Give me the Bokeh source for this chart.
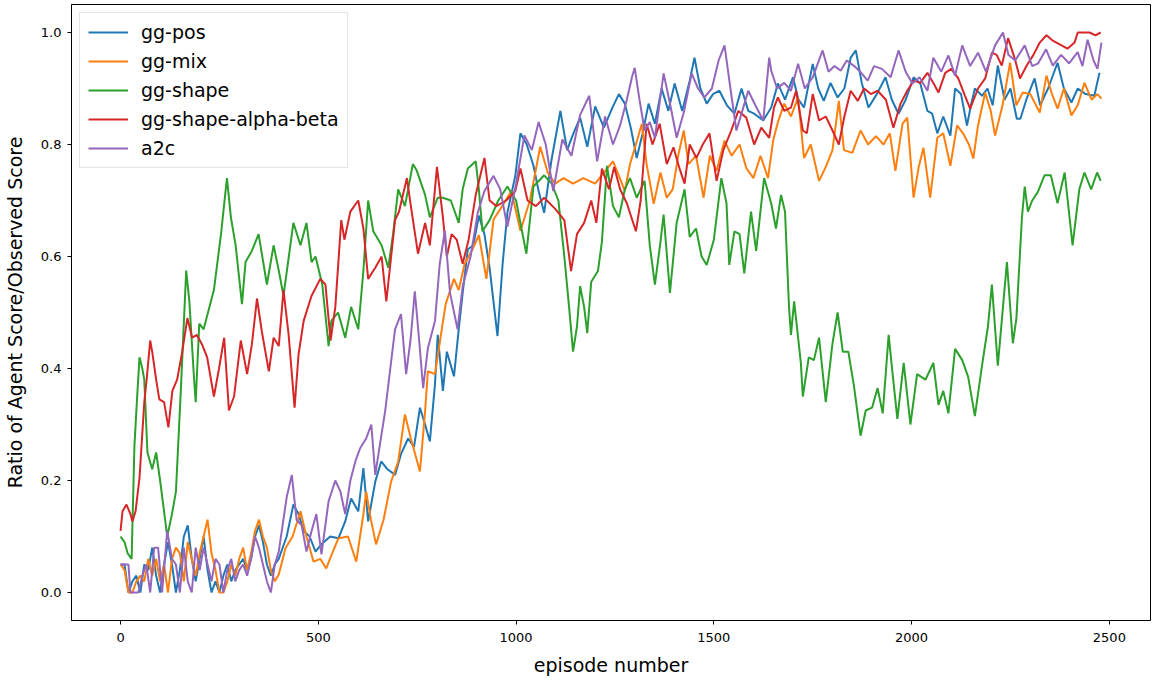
from bokeh.plotting import figure
from bokeh.models import FixedTicker, Legend, LegendItem, CustomJSTickFormatter
from bokeh.embed import file_html
from bokeh.resources import INLINE

# ---- data ----
pos_ep = [0, 10, 20, 30, 40, 50, 60, 70, 80, 90, 100, 110, 120, 130, 140, 150, 160, 170, 180, 190, 200, 210, 220, 230, 240, 250, 260, 270, 280, 290, 300, 310, 320, 330, 340, 350, 360, 370, 380, 390, 400, 420, 437, 450, 463, 478, 493, 508, 530, 551, 568, 583, 601, 614, 626, 644, 659, 675, 694, 709, 727, 742, 757, 770, 782, 795, 802, 815, 825, 843, 855, 865, 878, 892, 906, 920, 933, 953, 966, 978, 998, 1011, 1027, 1044, 1057, 1071, 1089, 1112, 1129, 1145, 1162, 1180, 1200, 1222, 1245, 1260, 1275, 1290, 1305, 1320, 1335, 1351, 1368, 1385, 1401, 1420, 1439, 1451, 1466, 1482, 1498, 1514, 1533, 1552, 1570, 1587, 1602, 1625, 1645, 1662, 1680, 1700, 1714, 1728, 1750, 1764, 1778, 1795, 1813, 1830, 1846, 1859, 1874, 1891, 1912, 1934, 1950, 1967, 1985, 2005, 2022, 2040, 2052, 2065, 2080, 2098, 2110, 2125, 2140, 2150, 2160, 2178, 2192, 2205, 2218, 2235, 2250, 2266, 2275, 2290, 2311, 2325, 2345, 2369, 2385, 2404, 2420, 2440, 2462, 2475]
pos_val = [0.05, 0.05, 0.0, 0.02, 0.03, 0.0, 0.05, 0.04, 0.08, 0.03, 0.0, 0.05, 0.09, 0.05, 0.0, 0.04, 0.10, 0.12, 0.06, 0.02, 0.06, 0.10, 0.04, 0.0, 0.02, 0.0, 0.03, 0.05, 0.02, 0.04, 0.05, 0.06, 0.04, 0.06, 0.10, 0.12, 0.09, 0.05, 0.03, 0.05, 0.06, 0.10, 0.157, 0.14, 0.11, 0.10, 0.073, 0.086, 0.10, 0.097, 0.127, 0.168, 0.145, 0.222, 0.127, 0.198, 0.234, 0.22, 0.21, 0.247, 0.275, 0.26, 0.33, 0.30, 0.27, 0.372, 0.46, 0.36, 0.43, 0.386, 0.47, 0.535, 0.613, 0.62, 0.673, 0.64, 0.58, 0.458, 0.587, 0.678, 0.744, 0.82, 0.80, 0.762, 0.717, 0.678, 0.77, 0.86, 0.79, 0.82, 0.848, 0.796, 0.868, 0.83, 0.868, 0.89, 0.873, 0.83, 0.776, 0.82, 0.873, 0.837, 0.90, 0.86, 0.909, 0.86, 0.914, 0.955, 0.90, 0.873, 0.89, 0.896, 0.87, 0.855, 0.90, 0.86, 0.855, 0.843, 0.866, 0.909, 0.88, 0.92, 0.88, 0.866, 0.944, 0.90, 0.878, 0.91, 0.884, 0.90, 0.955, 0.968, 0.91, 0.866, 0.89, 0.92, 0.88, 0.855, 0.88, 0.92, 0.909, 0.86, 0.855, 0.82, 0.85, 0.816, 0.90, 0.89, 0.834, 0.87, 0.90, 0.887, 0.90, 0.87, 0.941, 0.88, 0.90, 0.846, 0.846, 0.88, 0.918, 0.87, 0.90, 0.946, 0.90, 0.875, 0.90, 0.89, 0.887, 0.928]

mix_ep = [0, 10, 20, 30, 40, 50, 60, 70, 80, 90, 100, 110, 120, 130, 140, 150, 160, 170, 180, 190, 200, 210, 220, 230, 240, 250, 260, 270, 280, 290, 300, 310, 320, 330, 340, 350, 360, 370, 380, 390, 400, 417, 435, 455, 470, 488, 505, 520, 535, 551, 575, 596, 614, 621, 633, 646, 665, 684, 702, 719, 734, 757, 770, 777, 795, 810, 822, 843, 855, 870, 888, 906, 925, 943, 965, 988, 1011, 1035, 1061, 1080, 1099, 1120, 1144, 1170, 1200, 1222, 1245, 1255, 1275, 1288, 1303, 1318, 1330, 1348, 1365, 1381, 1396, 1411, 1424, 1436, 1455, 1474, 1490, 1507, 1527, 1545, 1565, 1582, 1600, 1618, 1637, 1650, 1662, 1678, 1695, 1713, 1728, 1745, 1766, 1783, 1800, 1816, 1829, 1850, 1871, 1890, 1910, 1929, 1945, 1959, 1977, 1989, 2005, 2018, 2030, 2047, 2065, 2080, 2098, 2115, 2130, 2145, 2156, 2168, 2186, 2200, 2211, 2230, 2249, 2265, 2281, 2300, 2324, 2341, 2355, 2369, 2385, 2404, 2420, 2437, 2455, 2470, 2480]
mix_val = [0.05, 0.04, 0.0, 0.0, 0.02, 0.03, 0.02, 0.06, 0.03, 0.06, 0.02, 0.05, 0.0, 0.06, 0.08, 0.07, 0.02, 0.09, 0.06, 0.03, 0.07, 0.10, 0.13, 0.07, 0.04, 0.0, 0.0, 0.02, 0.05, 0.03, 0.06, 0.08, 0.04, 0.07, 0.11, 0.13, 0.10, 0.08, 0.04, 0.02, 0.032, 0.079, 0.10, 0.145, 0.10, 0.055, 0.06, 0.043, 0.07, 0.097, 0.10, 0.055, 0.14, 0.18, 0.13, 0.086, 0.13, 0.198, 0.234, 0.318, 0.275, 0.216, 0.324, 0.395, 0.39, 0.46, 0.515, 0.56, 0.54, 0.587, 0.61, 0.638, 0.56, 0.666, 0.69, 0.717, 0.646, 0.70, 0.796, 0.75, 0.73, 0.74, 0.73, 0.74, 0.73, 0.75, 0.77, 0.753, 0.717, 0.765, 0.80, 0.837, 0.765, 0.694, 0.75, 0.705, 0.72, 0.784, 0.825, 0.765, 0.78, 0.705, 0.78, 0.753, 0.807, 0.78, 0.80, 0.758, 0.74, 0.78, 0.74, 0.807, 0.84, 0.873, 0.85, 0.884, 0.776, 0.80, 0.735, 0.76, 0.79, 0.878, 0.79, 0.785, 0.825, 0.80, 0.815, 0.80, 0.82, 0.753, 0.837, 0.848, 0.705, 0.76, 0.794, 0.705, 0.812, 0.82, 0.762, 0.834, 0.82, 0.80, 0.775, 0.834, 0.893, 0.86, 0.816, 0.87, 0.946, 0.87, 0.893, 0.89, 0.857, 0.923, 0.89, 0.864, 0.90, 0.852, 0.87, 0.91, 0.88, 0.89, 0.882]

shape_ep = [0, 10, 18, 28, 35, 42, 48, 55, 60, 68, 80, 90, 100, 110, 118, 130, 140, 153, 166, 174, 186, 190, 199, 210, 236, 254, 269, 279, 291, 307, 316, 332, 349, 370, 387, 400, 412, 437, 455, 470, 483, 493, 510, 526, 533, 550, 568, 583, 601, 614, 626, 639, 660, 677, 689, 702, 719, 739, 748, 770, 782, 802, 815, 835, 855, 865, 878, 898, 906, 915, 933, 955, 978, 1000, 1026, 1044, 1071, 1090, 1107, 1122, 1134, 1144, 1154, 1162, 1172, 1180, 1190, 1207, 1217, 1230, 1245, 1260, 1275, 1288, 1305, 1325, 1338, 1351, 1364, 1373, 1389, 1406, 1426, 1439, 1455, 1469, 1482, 1500, 1519, 1532, 1539, 1552, 1565, 1577, 1594, 1607, 1627, 1645, 1657, 1670, 1680, 1690, 1695, 1703, 1720, 1725, 1740, 1753, 1766, 1783, 1800, 1813, 1826, 1840, 1854, 1871, 1884, 1900, 1914, 1927, 1942, 1952, 1964, 1980, 1997, 2014, 2035, 2055, 2068, 2080, 2093, 2110, 2128, 2143, 2160, 2178, 2193, 2203, 2218, 2241, 2256, 2265, 2279, 2286, 2294, 2305, 2319, 2336, 2352, 2369, 2387, 2407, 2424, 2437, 2454, 2469, 2478]
shape_val = [0.10, 0.09, 0.07, 0.06, 0.26, 0.35, 0.42, 0.40, 0.38, 0.25, 0.22, 0.25, 0.20, 0.145, 0.10, 0.14, 0.18, 0.37, 0.575, 0.52, 0.38, 0.34, 0.48, 0.47, 0.54, 0.64, 0.74, 0.67, 0.62, 0.515, 0.59, 0.61, 0.64, 0.55, 0.62, 0.575, 0.53, 0.66, 0.62, 0.66, 0.59, 0.60, 0.55, 0.44, 0.485, 0.50, 0.455, 0.51, 0.47, 0.575, 0.70, 0.645, 0.62, 0.58, 0.64, 0.72, 0.69, 0.765, 0.755, 0.71, 0.67, 0.705, 0.705, 0.70, 0.66, 0.72, 0.757, 0.77, 0.72, 0.645, 0.665, 0.70, 0.725, 0.70, 0.605, 0.725, 0.745, 0.73, 0.70, 0.60, 0.51, 0.43, 0.475, 0.547, 0.51, 0.463, 0.555, 0.574, 0.626, 0.762, 0.69, 0.67, 0.72, 0.74, 0.705, 0.735, 0.62, 0.55, 0.62, 0.675, 0.535, 0.66, 0.72, 0.635, 0.65, 0.60, 0.585, 0.63, 0.74, 0.695, 0.585, 0.645, 0.64, 0.57, 0.68, 0.61, 0.74, 0.695, 0.65, 0.71, 0.68, 0.51, 0.46, 0.52, 0.41, 0.35, 0.42, 0.415, 0.455, 0.34, 0.445, 0.50, 0.43, 0.43, 0.37, 0.28, 0.325, 0.33, 0.365, 0.32, 0.46, 0.39, 0.31, 0.41, 0.30, 0.39, 0.38, 0.41, 0.335, 0.36, 0.32, 0.435, 0.415, 0.385, 0.315, 0.405, 0.475, 0.55, 0.405, 0.59, 0.445, 0.49, 0.67, 0.725, 0.68, 0.70, 0.715, 0.745, 0.745, 0.695, 0.75, 0.62, 0.72, 0.75, 0.72, 0.75, 0.735]

ab_ep = [0, 5, 15, 25, 30, 38, 48, 60, 66, 75, 80, 90, 98, 110, 121, 131, 143, 156, 169, 181, 193, 206, 219, 236, 249, 262, 274, 287, 304, 320, 332, 345, 357, 375, 387, 400, 412, 425, 440, 450, 463, 483, 505, 518, 531, 543, 558, 566, 581, 601, 614, 626, 644, 660, 672, 694, 704, 724, 734, 752, 770, 782, 800, 815, 825, 837, 850, 865, 880, 898, 920, 933, 950, 975, 998, 1011, 1029, 1050, 1071, 1099, 1122, 1139, 1154, 1172, 1190, 1203, 1217, 1235, 1248, 1263, 1280, 1303, 1315, 1330, 1345, 1363, 1381, 1398, 1412, 1426, 1439, 1456, 1472, 1489, 1507, 1524, 1544, 1562, 1582, 1602, 1620, 1640, 1652, 1662, 1678, 1695, 1708, 1725, 1735, 1750, 1766, 1783, 1800, 1816, 1830, 1846, 1864, 1880, 1897, 1914, 1935, 1954, 1972, 1989, 2005, 2022, 2040, 2055, 2068, 2085, 2100, 2118, 2135, 2148, 2168, 2186, 2203, 2215, 2228, 2244, 2261, 2274, 2291, 2308, 2324, 2341, 2358, 2379, 2394, 2412, 2420, 2450, 2465, 2478]
ab_val = [0.11, 0.145, 0.157, 0.14, 0.127, 0.145, 0.205, 0.34, 0.38, 0.45, 0.43, 0.38, 0.345, 0.34, 0.295, 0.36, 0.38, 0.43, 0.49, 0.455, 0.46, 0.443, 0.42, 0.35, 0.40, 0.455, 0.325, 0.35, 0.45, 0.39, 0.443, 0.525, 0.467, 0.395, 0.455, 0.44, 0.54, 0.46, 0.33, 0.425, 0.485, 0.53, 0.56, 0.55, 0.45, 0.51, 0.665, 0.63, 0.68, 0.70, 0.65, 0.56, 0.58, 0.60, 0.52, 0.665, 0.68, 0.74, 0.69, 0.605, 0.66, 0.62, 0.76, 0.67, 0.60, 0.64, 0.63, 0.587, 0.63, 0.71, 0.776, 0.70, 0.69, 0.70, 0.717, 0.757, 0.70, 0.69, 0.705, 0.685, 0.665, 0.574, 0.64, 0.66, 0.70, 0.66, 0.757, 0.72, 0.76, 0.72, 0.695, 0.645, 0.70, 0.837, 0.80, 0.837, 0.765, 0.795, 0.76, 0.73, 0.80, 0.776, 0.80, 0.82, 0.735, 0.79, 0.825, 0.86, 0.848, 0.80, 0.83, 0.812, 0.866, 0.884, 0.86, 0.866, 0.896, 0.825, 0.82, 0.89, 0.843, 0.85, 0.825, 0.80, 0.85, 0.896, 0.878, 0.90, 0.89, 0.896, 0.88, 0.83, 0.873, 0.896, 0.914, 0.91, 0.928, 0.91, 0.893, 0.928, 0.935, 0.918, 0.887, 0.864, 0.90, 0.918, 0.964, 0.96, 0.941, 0.99, 0.953, 0.918, 0.941, 0.96, 0.982, 0.995, 0.985, 0.977, 0.971, 0.982, 1.0, 1.0, 0.995, 1.0]

a2c_ep = [0, 10, 20, 25, 35, 45, 55, 65, 75, 85, 95, 105, 118, 130, 140, 150, 160, 170, 180, 190, 200, 210, 220, 230, 240, 250, 260, 270, 280, 290, 300, 310, 320, 330, 340, 350, 360, 370, 380, 390, 400, 420, 433, 445, 458, 470, 483, 495, 508, 526, 543, 556, 568, 581, 594, 606, 621, 634, 644, 657, 669, 682, 694, 709, 722, 733, 744, 755, 765, 777, 795, 807, 820, 833, 852, 865, 885, 903, 920, 943, 960, 978, 1000, 1021, 1040, 1057, 1075, 1094, 1117, 1140, 1162, 1185, 1205, 1225, 1245, 1263, 1280, 1293, 1300, 1312, 1325, 1338, 1351, 1373, 1390, 1406, 1425, 1444, 1460, 1476, 1495, 1512, 1527, 1542, 1557, 1572, 1587, 1605, 1625, 1640, 1645, 1660, 1678, 1695, 1713, 1730, 1750, 1775, 1790, 1805, 1821, 1836, 1855, 1870, 1889, 1905, 1925, 1947, 1967, 1985, 2002, 2020, 2040, 2055, 2075, 2093, 2110, 2128, 2148, 2168, 2188, 2211, 2231, 2245, 2262, 2286, 2305, 2320, 2340, 2357, 2378, 2398, 2420, 2432, 2445, 2460, 2470, 2480]
a2c_val = [0.05, 0.05, 0.05, 0.0, 0.0, 0.0, 0.03, 0.05, 0.0, 0.08, 0.08, 0.0, 0.11, 0.06, 0.05, 0.0, 0.08, 0.02, 0.0, 0.08, 0.04, 0.08, 0.05, 0.02, 0.06, 0.05, 0.0, 0.04, 0.06, 0.02, 0.04, 0.05, 0.03, 0.06, 0.10, 0.08, 0.05, 0.02, 0.0, 0.05, 0.073, 0.17, 0.21, 0.13, 0.12, 0.073, 0.11, 0.14, 0.068, 0.163, 0.2, 0.18, 0.14, 0.2, 0.235, 0.258, 0.275, 0.30, 0.21, 0.27, 0.324, 0.40, 0.47, 0.497, 0.39, 0.45, 0.538, 0.45, 0.365, 0.436, 0.485, 0.587, 0.646, 0.535, 0.47, 0.547, 0.60, 0.678, 0.717, 0.744, 0.72, 0.653, 0.73, 0.816, 0.79, 0.84, 0.80, 0.717, 0.809, 0.78, 0.853, 0.887, 0.77, 0.85, 0.80, 0.834, 0.88, 0.92, 0.937, 0.88, 0.825, 0.84, 0.812, 0.927, 0.87, 0.812, 0.86, 0.927, 0.90, 0.884, 0.90, 0.95, 0.977, 0.90, 0.825, 0.86, 0.896, 0.87, 0.843, 0.955, 0.932, 0.90, 0.91, 0.896, 0.944, 0.90, 0.92, 0.968, 0.93, 0.94, 0.932, 0.95, 0.94, 0.93, 0.914, 0.94, 0.935, 0.92, 0.968, 0.93, 0.909, 0.92, 0.896, 0.955, 0.93, 0.959, 0.923, 0.977, 0.94, 0.964, 0.93, 0.977, 1.0, 0.96, 0.95, 0.977, 0.94, 0.945, 0.97, 0.941, 0.96, 0.945, 0.965, 0.94, 0.987, 0.95, 0.935, 0.982]

series_names = ["gg-pos", "gg-mix", "gg-shape", "gg-shape-alpha-beta", "a2c"]
series_colors = ["#1f77b4", "#ff7f0e", "#2ca02c", "#d62728", "#9467bd"]
x_ticks = [0, 500, 1000, 1500, 2000, 2500]
y_ticks = [0.0, 0.2, 0.4, 0.6, 0.8, 1.0]
x_label = "episode number"
y_label = "Ratio of Agent Score/Observed Score"

FONT = "DejaVu Sans"

p = figure(width=1152, height=681, output_backend="svg", toolbar_location=None,
           x_range=(-124, 2604), y_range=(-0.05, 1.05),
           min_border_left=68, min_border_right=2, min_border_top=4, min_border_bottom=61)
p.xgrid.visible = False
p.ygrid.visible = False
p.outline_line_color = "black"
p.outline_line_width = 1
p.background_fill_color = "white"
p.border_fill_color = "white"

data = [(pos_ep, pos_val), (mix_ep, mix_val), (shape_ep, shape_val), (ab_ep, ab_val), (a2c_ep, a2c_val)]
items = []
for (xs, ys), name, col in zip(data, series_names, series_colors):
    r = p.line(xs, ys, line_color=col, line_width=2)
    items.append(LegendItem(label=name, renderers=[r]))

for ax in (p.xaxis[0], p.yaxis[0]):
    ax.major_tick_in = 0
    ax.major_tick_out = 4
    ax.minor_tick_line_color = None
    ax.axis_line_color = "black"
    ax.major_tick_line_color = "black"
    ax.major_label_text_font = FONT
    ax.major_label_text_font_size = "13px"
    ax.major_label_text_color = "black"
    ax.axis_label_text_font = FONT
    ax.axis_label_text_font_style = "normal"
    ax.axis_label_text_font_size = "19px"
    ax.axis_label_text_color = "black"

p.xaxis[0].ticker = FixedTicker(ticks=x_ticks)
p.yaxis[0].ticker = FixedTicker(ticks=y_ticks)
p.yaxis[0].formatter = CustomJSTickFormatter(code="return tick.toFixed(1);")
p.xaxis[0].axis_label = x_label
p.yaxis[0].axis_label = y_label
p.xaxis[0].major_label_standoff = 8
p.yaxis[0].major_label_standoff = 6
p.xaxis[0].axis_label_standoff = 9
p.yaxis[0].axis_label_standoff = 12

legend = Legend(items=items, location="top_left")
legend.label_text_font = FONT
legend.label_text_font_size = "19px"
legend.label_text_color = "black"
legend.glyph_width = 40
legend.glyph_height = 22
legend.label_height = 22
legend.label_standoff = 13
legend.spacing = 7
legend.padding = 8
legend.margin = 8
legend.border_line_color = "#cccccc"
legend.border_line_width = 1
legend.background_fill_alpha = 0.8
p.add_layout(legend)

open("out.html", "w").write(file_html(p, INLINE))
